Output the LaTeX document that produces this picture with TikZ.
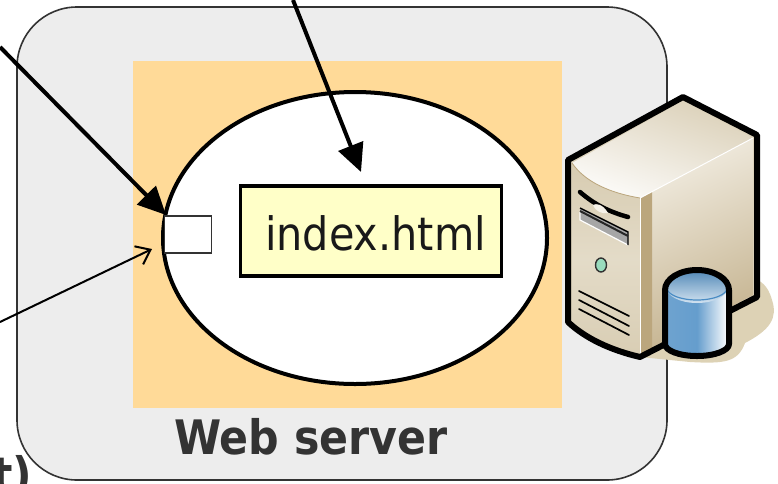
\documentclass[tikz,border=0pt]{standalone}
\usepackage{fontspec}
\setmainfont[FakeStretch=0.9]{DejaVu Sans}
\usetikzlibrary{arrows.meta,shapes.geometric}
\definecolor{panelgrey}{HTML}{EDEDED}
\definecolor{orangeback}{HTML}{FFDA98}
\definecolor{fileyellow}{HTML}{FFFFC8}
\definecolor{txt}{HTML}{333333}
\definecolor{tanshadow}{HTML}{DDD2B5}
\definecolor{tanlight}{HTML}{F5F1E8}
\definecolor{tanmid}{HTML}{DCD2BA}
\definecolor{tandark}{HTML}{BBA67D}
\definecolor{dbblue}{HTML}{4A8CC4}
\tikzset{
  px/.style={x=1pt,y=-1pt},
  srv/.style={draw=black,line width=6pt,line join=round},
  slot/.style={draw=black,line width=1.7pt,line cap=round},
  lbl/.style={inner sep=0pt,text=txt,font=\bfseries\fontsize{47.5}{47.5}\selectfont}
}
\begin{document}
\begin{tikzpicture}[px]
\useasboundingbox (0,0) rectangle (778,483);
\clip (0,0) rectangle (778,483);
% panel
\draw[draw=txt,line width=1.6pt,fill=panelgrey,rounded corners=60pt] (17,7) rectangle (667,480);
\fill[orangeback] (133,61) rectangle (562,408);
% shadow behind server
\fill[tanshadow] (640,357) -- (690,362) .. controls (725,364) and (738,362) .. (745,343)
  .. controls (770,330) and (778,318) .. (772,300) .. controls (768,285) and (760,280) .. (752,278) -- (680,270) -- cycle;
% server body
\fill[tanmid] (568,160) -- (683,97) -- (757,135) -- (757,297) -- (640,357) .. controls (610,350) and (585,338) .. (568,322) -- cycle;
\shade[top color=tanlight!85!tanmid,bottom color=tandark!75!tanmid,shading angle=25] (640,198) -- (753,138) -- (753,295) -- (650,350) -- (640,355) -- cycle;
\shade[top color=tanmid!85!tandark!90,bottom color=white!90!tanmid,shading angle=-20] (572,163) -- (683,101) -- (753,138) -- (640,198) .. controls (610,193) and (585,182) .. (572,163) -- cycle;
\shade[top color=tanmid!85!tandark,bottom color=tanmid!90!tandark,middle color=tanmid!70!tanlight] (572,163) .. controls (585,182) and (610,193) .. (640,198) -- (640,355) .. controls (610,348) and (585,335) .. (572,320) -- cycle;
\fill[tandark] (640,198) -- (652,192) -- (652,349) -- (640,355) -- cycle;
\draw[white,line width=1pt] (640,198) -- (753,138);
\draw[white,line width=1pt] (640,198) -- (640,355);
\draw[tandark,line width=.8pt] (572,163) .. controls (585,182) and (610,193) .. (640,198);
% drive slots and controls
\draw[black,line width=4.5pt,line cap=round] (580,192) .. controls (595,205) and (610,212) .. (628,217);
\fill[tanlight] (593,205) .. controls (596,203) and (603,204) .. (608,213) .. controls (602,214) and (596,212) .. (593,205) -- cycle;
\fill[gray!70] (580,208) -- (628,232) -- (628,245) -- (580,220) -- cycle;
\draw[white,line width=1.2pt] (580,212) -- (580,220) -- (628,245);
\draw[black,line width=1.4pt] (580,208) -- (628,232) -- (628,245);
\draw[black!70!gray,line width=2pt] (580,211) -- (628,236);
\draw[black!80,fill=green!30!teal!40,line width=1.4pt] (601,265) ellipse (5.5pt and 7pt);
\draw[slot] (579,291) -- (629,316);
\draw[slot] (579,300) -- (629,326);
\draw[slot] (579,309) -- (629,335);
% outline
\draw[srv] (568,160) -- (683,97) -- (757,135) -- (757,297) -- (640,357) .. controls (610,350) and (585,338) .. (568,322) -- cycle;
% cylinder
\shade[left color=dbblue!80,right color=white,middle color=dbblue!85!white] (666,287) -- (666,343) arc[x radius=31pt,y radius=11pt,start angle=180,end angle=360] -- (728,287) -- cycle;
\shade[top color=dbblue!90!black!90,bottom color=white!75!dbblue] (697,287) ellipse (31pt and 16pt);
\draw[dbblue,line width=1.2pt] (667,288) arc[x radius=30pt,y radius=12pt,start angle=180,end angle=360];
\draw[srv,line width=6pt] (665,290) arc[x radius=32pt,y radius=20pt,start angle=180,end angle=0] -- (729,344) arc[x radius=32pt,y radius=12pt,start angle=0,end angle=-180] -- cycle;
% ellipse and contents
\node (proc) [draw=black,line width=4pt,fill=white,ellipse,minimum width=384pt,minimum height=292pt,inner sep=0pt] at (355,238) {};
\node (port) [draw=txt,fill=white,line width=1.5pt,minimum width=47pt,minimum height=37pt,inner sep=0pt] at (188,234.5) {};
\node (file) [draw=black,fill=fileyellow,line width=3.5pt,minimum width=261pt,minimum height=90pt,inner sep=0pt] at (371,231) {};
\node[inner sep=0pt,text=black!90,font=\fontsize{46}{46}\selectfont] (filetext) at (375.5,233) {index.html};
\node[lbl] (ws) at (311,437) {Web server};
\node[lbl,anchor=west] (t) at (-8,477) {t)};
% connectors
\coordinate (a1) at (0,47);
\coordinate (a1e) at (166,215);
\coordinate (a2) at (293,0);
\coordinate (a2e) at (361,172);
\coordinate (a3) at (0,322);
\coordinate (a3e) at (152,249);
\draw[-{Triangle[length=28pt,width=26pt]},line width=4pt] (a1) -- (a1e);
\draw[-{Triangle[length=28pt,width=26pt]},line width=4pt] (a2) -- (a2e);
\draw[-{Straight Barb[length=13pt,width=20pt]},line width=2pt] (a3) -- (a3e);
\end{tikzpicture}
\end{document}
